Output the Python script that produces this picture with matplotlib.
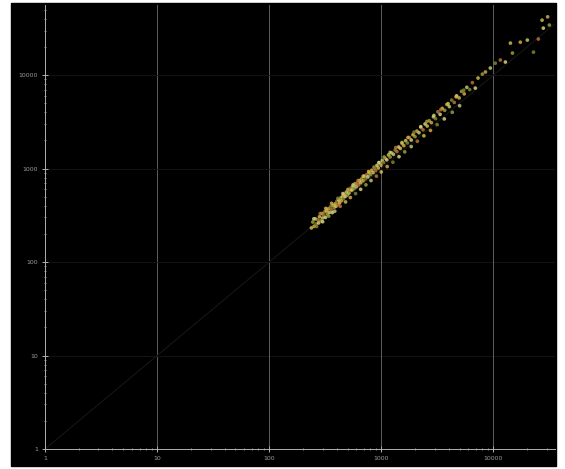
import matplotlib
matplotlib.use("Agg")
import matplotlib.pyplot as plt
from matplotlib.patches import Rectangle
from matplotlib.ticker import LogLocator, FixedLocator, NullFormatter

# ---- data (log-log) ----
x_vals = [238, 245, 252, 258, 262, 270, 276, 281, 288, 295, 300, 306, 312, 318,
          325, 331, 338, 345, 352, 360, 366, 372, 380, 388, 395, 402, 410,
          418, 425, 433, 442, 450, 460, 468, 478, 488, 497, 506, 515, 525, 536,
          548, 560, 572, 585, 598, 610, 625, 640, 655, 670, 688, 705, 722, 740,
          760, 780, 800, 822, 845, 868, 890, 915, 940, 968, 995,
          1020, 1050, 1085, 1120, 1160, 1200, 1240, 1285, 1330, 1380, 1430, 1480,
          1535, 1590, 1650, 1710, 1780, 1850, 1920, 2000, 2080, 2170, 2260, 2360,
          2460, 2570, 2680, 2800, 2920, 3050,
          3200, 3350, 3500, 3680, 3850, 4050, 4250, 4480, 4700, 4950, 5200, 5500,
          5800, 6150, 6500, 6900, 7300,
          7980, 8500, 9400, 10400, 11550, 12800, 14200, 14800, 17400, 20100,
          22800, 25200, 27900, 27200, 31600, 30500,
          250, 265, 285, 300, 320, 340, 360, 385, 410, 430, 455, 480, 505, 530,
          560, 590, 620, 655, 690, 730, 770, 810, 860, 905, 950, 1000, 1060,
          1130, 1200, 1270, 1350, 1440, 1530, 1620, 1730, 1850, 1960, 2100,
          2250, 2400, 2550, 2750, 2950, 3150, 3400, 3650, 3950, 4300, 4650,
          5000, 5450]
y_vals = [232, 268, 241, 290, 255, 283, 262, 305, 276, 330, 296, 318, 345, 300,
          352, 326, 371, 340, 390, 362, 338, 405, 384, 420, 395, 448, 410,
          462, 430, 485, 455, 500, 478, 530, 505, 560, 520, 590, 548, 575, 620,
          590, 648, 612, 690, 640, 700, 668, 745, 705, 780, 740, 830, 776, 860,
          815, 905, 862, 960, 905, 1010, 955, 1080, 1015, 1150, 1085,
          1220, 1160, 1290, 1240, 1400, 1330, 1470, 1420, 1580, 1520, 1700, 1640,
          1850, 1760, 1990, 1880, 2150, 2020, 2300, 2200, 2520, 2420, 2750, 2600,
          3000, 2850, 3250, 3100, 3580, 3420,
          4050, 3800, 4400, 4200, 4850, 4600, 5400, 5100, 6000, 5700, 6700, 6300,
          7400, 7000, 8300, 7260, 9300,
          10250, 10800, 11900, 13400, 14500, 13800, 22000, 17200, 22500, 23700,
          17600, 24300, 31800, 38700, 34300, 42000,
          290, 240, 330, 270, 375, 310, 425, 350, 480, 395, 540, 440, 600, 490,
          670, 540, 745, 600, 830, 670, 930, 745, 1040, 830, 1160, 920, 1330,
          1050, 1490, 1170, 1680, 1340, 1900, 1510, 2150, 1720, 2450, 1960,
          2810, 2240, 3190, 2560, 3700, 2950, 4270, 3400, 4950, 4000, 5850,
          4700, 6900]

decades = [1, 10, 100, 1000, 10000]
tick_labels = ["1", "10", "100", "1000", "10000"]

palette = ["#d6c84e", "#a9a63a", "#e2b04a", "#c9d27a", "#8f8a2e", "#c8783a", "#e6dc8c"]
pt_colors = [palette[i % len(palette)] for i in range(len(x_vals))]

fig = plt.figure(figsize=(5.65, 4.69), dpi=100)
fig.patch.set_facecolor("white")
# black panel behind the plot
fig.patches.append(Rectangle((11 / 565, 3 / 469), 545 / 565, 463 / 469,
                             transform=fig.transFigure, color="black", zorder=-10))

ax = fig.add_axes([45 / 565, 20 / 469, 510 / 565, 444 / 469])
ax.set_facecolor("black")
ax.set_xscale("log")
ax.set_yscale("log")
ax.set_xlim(1, 10 ** 4.55)
ax.set_ylim(1, 10 ** 4.75)

# grid: bright vertical, faint horizontal
for d in decades[1:]:
    ax.axvline(d, color="#5e5e5e", lw=0.7, zorder=1)
    ax.axhline(d, color="#141414", lw=0.7, zorder=1)

# faint y = x reference line
ax.plot([1, 40000], [1, 40000], color="#161616", lw=0.8, zorder=1)

ax.scatter(x_vals, y_vals, s=7, c=pt_colors, edgecolors="none", alpha=0.8, zorder=3)

for side in ["top", "right"]:
    ax.spines[side].set_visible(False)
for side in ["left", "bottom"]:
    ax.spines[side].set_color("#b0b0b0")
    ax.spines[side].set_linewidth(0.7)

ax.xaxis.set_major_locator(FixedLocator(decades))
ax.yaxis.set_major_locator(FixedLocator(decades))
ax.set_xticklabels(tick_labels)
ax.set_yticklabels(tick_labels)
ax.xaxis.set_minor_locator(LogLocator(base=10, subs=range(2, 10)))
ax.yaxis.set_minor_locator(LogLocator(base=10, subs=range(2, 10)))
ax.xaxis.set_minor_formatter(NullFormatter())
ax.yaxis.set_minor_formatter(NullFormatter())
ax.tick_params(which="major", direction="inout", length=4, width=0.7,
               colors="#b0b0b0", labelsize=4.5, labelcolor="#9a9a9a", pad=3)
ax.tick_params(which="minor", direction="inout", length=2, width=0.6, colors="#a0a0a0")

fig.savefig("out.png", dpi=100, facecolor="white")
